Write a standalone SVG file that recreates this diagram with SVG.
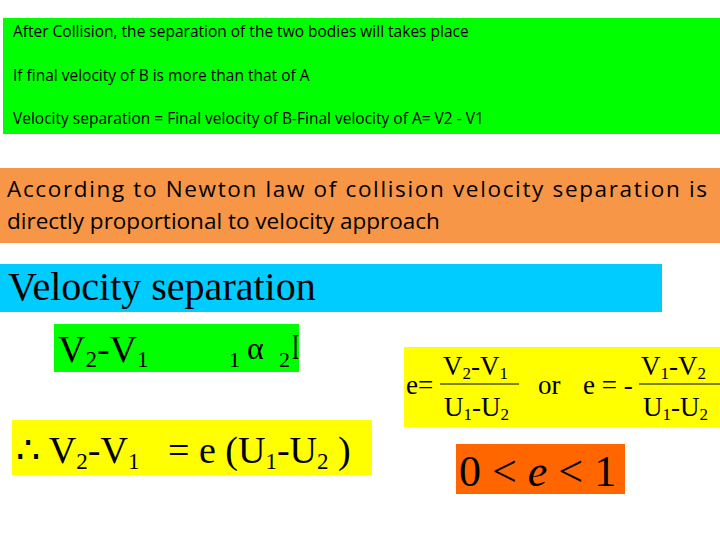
<svg xmlns="http://www.w3.org/2000/svg" width="720" height="540" viewBox="0 0 720 540">
<style>
.c{font-family:"Open Sans","Liberation Sans",sans-serif;fill:#000}
.t{font-family:"Liberation Serif",serif;fill:#000}
</style>
<rect width="720" height="540" fill="#fff"/>
<rect x="3" y="18" width="717" height="116" fill="#00ff00"/>
<text class="c" font-size="15.5" x="13" y="37">After Collision, the separation of the two bodies will takes place</text>
<text class="c" font-size="15.5" x="13" y="81">If final velocity of B is more than that of A</text>
<text class="c" font-size="15.5" x="13" y="124">Velocity separation = Final velocity of B-Final velocity of A=  V2 - V1</text>
<rect x="0" y="168" width="720" height="75" fill="#f79646"/>
<text class="c" font-size="22.5" x="7" y="197" textLength="700" lengthAdjust="spacing">According to Newton law of collision velocity separation is</text>
<text class="c" font-size="22.5" x="7" y="229">directly proportional to velocity approach</text>
<rect x="0" y="264" width="662" height="48" fill="#00ccff"/>
<text class="t" font-size="40" x="8" y="300">Velocity separation</text>
<rect x="54" y="324" width="245" height="48" fill="#00ff00"/>
<text class="t" font-size="38" x="58" y="362">V<tspan font-size="23" dy="5">2</tspan><tspan dy="-5">-V</tspan><tspan font-size="23" dy="5">1</tspan></text>
<text class="t" font-size="22" x="229" y="367">1</text>
<text class="t" font-size="32" x="247" y="359">α</text>
<text class="t" font-size="22" x="279" y="367">2</text>
<text class="t" font-size="36" x="292" y="359" textLength="7" lengthAdjust="spacingAndGlyphs">I</text>
<rect x="12" y="420" width="360" height="55" fill="#ffff00"/>
<text class="t" font-size="38" x="16" y="463">∴ V<tspan font-size="23" dy="6">2</tspan><tspan dy="-6">-V</tspan><tspan font-size="23" dy="6">1</tspan><tspan dy="-6" x="168">= e (U</tspan><tspan font-size="23" dy="6">1</tspan><tspan dy="-6">-U</tspan><tspan font-size="23" dy="6">2</tspan><tspan dy="-6"> )</tspan></text>
<rect x="404" y="347" width="316" height="80" fill="#ffff00"/>
<text class="t" font-size="27" x="406" y="394">e=</text>
<text class="t" font-size="27" x="443" y="375">V<tspan font-size="17" dy="4">2</tspan><tspan dy="-4">-V</tspan><tspan font-size="17" dy="4">1</tspan></text>
<line x1="440" y1="384" x2="519" y2="384" stroke="#000" stroke-width="1.2"/>
<text class="t" font-size="27" x="444" y="416">U<tspan font-size="17" dy="4">1</tspan><tspan dy="-4">-U</tspan><tspan font-size="17" dy="4">2</tspan></text>
<text class="t" font-size="27" x="538" y="394">or</text>
<text class="t" font-size="27" x="583" y="394">e = -</text>
<text class="t" font-size="27" x="641" y="375">V<tspan font-size="17" dy="4">1</tspan><tspan dy="-4">-V</tspan><tspan font-size="17" dy="4">2</tspan></text>
<line x1="639" y1="384" x2="720" y2="384" stroke="#000" stroke-width="1.2"/>
<text class="t" font-size="27" x="643" y="416">U<tspan font-size="17" dy="4">1</tspan><tspan dy="-4">-U</tspan><tspan font-size="17" dy="4">2</tspan></text>
<rect x="456" y="444" width="169" height="50" fill="#ff6600"/>
<text class="t" font-size="44" x="459" y="486">0 &lt; <tspan font-style="italic">e</tspan> &lt; 1</text>
</svg>
